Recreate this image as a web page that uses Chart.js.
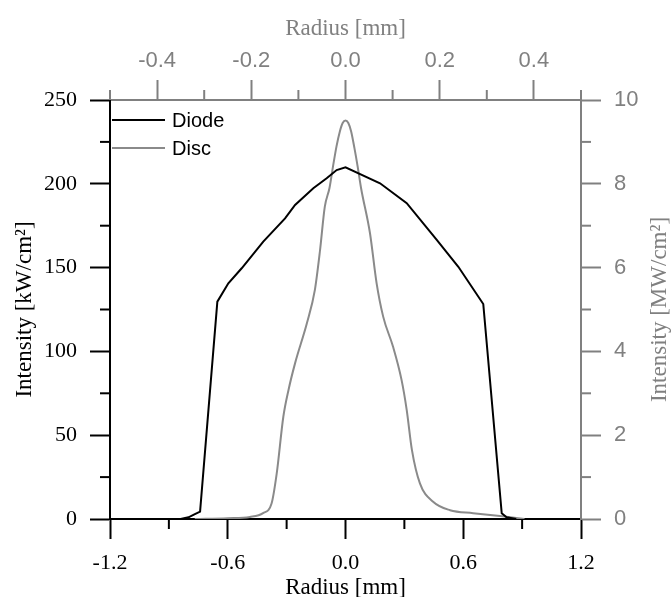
<!DOCTYPE html>
<html>
<head>
<meta charset="utf-8">
<script src="https://cdn.jsdelivr.net/npm/chart.js@4"></script>
<style>
  html, body { margin: 0; padding: 0; background: #fff; }
  #wrap { width: 672px; height: 597px; }
</style>
</head>
<body>
<div id="wrap"><canvas id="c" width="672" height="597"></canvas></div>
<script>
// ---- data ----
const diodeRadius    = [-0.84, -0.80, -0.77, -0.741, -0.653, -0.597, -0.529, -0.419, -0.308, -0.257, -0.164, -0.096, -0.045, 0.0, 0.176, 0.312, 0.465, 0.575, 0.702, 0.796, 0.821, 0.87];
const diodeIntensity = [0, 1.0, 2.8, 4.4, 129.7, 140.6, 149.6, 165.5, 179.4, 187.4, 197.3, 203.3, 208.2, 209.8, 200.3, 188.4, 166.5, 150.5, 128.3, 3.4, 1.0, 0];

const discRadius    = [-0.32, -0.25, -0.203, -0.175, -0.157, -0.146, -0.132, -0.121, -0.107, -0.082, -0.065, -0.054, -0.044, -0.034, -0.026, -0.019, -0.012, -0.006, 0.0, 0.006, 0.012, 0.019, 0.026, 0.033, 0.052, 0.066, 0.080, 0.101, 0.119, 0.130, 0.141, 0.158, 0.186, 0.222, 0.271, 0.328, 0.38];
const discIntensity = [0, 0.02, 0.05, 0.14, 0.37, 1.09, 2.44, 3.08, 3.72, 4.67, 5.47, 6.42, 7.45, 7.9, 8.45, 8.9, 9.25, 9.45, 9.51, 9.45, 9.25, 8.85, 8.4, 7.9, 6.82, 5.63, 4.83, 4.11, 3.32, 2.60, 1.65, 0.85, 0.41, 0.21, 0.14, 0.07, 0];

const seriesLabels = ['Diode', 'Disc'];

const bottomTicks = [-1.2, -0.6, 0.0, 0.6, 1.2];
const bottomMinor = [-0.9, -0.3, 0.3, 0.9];
const topTicks    = [-0.4, -0.2, 0.0, 0.2, 0.4];
const topMinor    = [-0.5, -0.3, -0.1, 0.1, 0.3, 0.5];
const leftTicks   = [0, 50, 100, 150, 200, 250];
const leftMinor   = [25, 75, 125, 175, 225];
const rightTicks  = [0, 2, 4, 6, 8, 10];
const rightMinor  = [1, 3, 5, 7, 9];

const bottomTitle = 'Radius [mm]';
const topTitle    = 'Radius [mm]';
const leftTitle   = 'Intensity [kW/cm\u00B2]';
const rightTitle  = 'Intensity [MW/cm\u00B2]';

// ---- styles ----
const BLACK = '#000000';
const GRAY = '#808080';
const LINE_GRAY = '#8a8a8a';
const SERIF = "'Liberation Serif', 'Times New Roman', serif";
const SANS = "'Liberation Sans', Arial, sans-serif";

const minorTicksPlugin = {
  id: 'minorTicks',
  afterDraw(chart) {
    const ctx = chart.ctx;
    const len = 10;
    ctx.save();
    ctx.lineWidth = 2;
    const draw = (scale, vals, color, pos) => {
      ctx.strokeStyle = color;
      vals.forEach(v => {
        const p = scale.getPixelForValue(v);
        ctx.beginPath();
        if (pos === 'bottom') { ctx.moveTo(p, scale.top); ctx.lineTo(p, scale.top + len); }
        if (pos === 'top') { ctx.moveTo(p, scale.bottom); ctx.lineTo(p, scale.bottom - len); }
        if (pos === 'left') { ctx.moveTo(scale.right, p); ctx.lineTo(scale.right - len, p); }
        if (pos === 'right') { ctx.moveTo(scale.left, p); ctx.lineTo(scale.left + len, p); }
        ctx.stroke();
      });
    };
    draw(chart.scales.x, bottomMinor, BLACK, 'bottom');
    draw(chart.scales.y, leftMinor, BLACK, 'left');
    draw(chart.scales.x2, topMinor, GRAY, 'top');
    draw(chart.scales.y2, rightMinor, GRAY, 'right');
    ctx.restore();
  }
};

const rightTitlePlugin = {
  id: 'rightTitle',
  afterDraw(chart) {
    const ctx = chart.ctx;
    const ca = chart.chartArea;
    ctx.save();
    ctx.translate(660, (ca.top + ca.bottom) / 2);
    ctx.rotate(-Math.PI / 2);
    ctx.font = '23px ' + SERIF;
    ctx.fillStyle = GRAY;
    ctx.textAlign = 'center';
    ctx.textBaseline = 'middle';
    ctx.fillText(rightTitle, 0, 0);
    ctx.restore();
  }
};

const legendPlugin = {
  id: 'insideLegend',
  afterDraw(chart) {
    const ctx = chart.ctx;
    const ca = chart.chartArea;
    ctx.save();
    ctx.font = '20px ' + SANS;
    ctx.textBaseline = 'middle';
    chart.data.datasets.forEach((ds, i) => {
      const y = ca.top + 20 + i * 28;
      ctx.strokeStyle = ds.borderColor;
      ctx.lineWidth = ds.borderWidth;
      ctx.beginPath();
      ctx.moveTo(ca.left + 2, y);
      ctx.lineTo(ca.left + 55, y);
      ctx.stroke();
      ctx.fillStyle = BLACK;
      ctx.fillText(ds.label, ca.left + 62, y + 1);
    });
    ctx.restore();
  }
};

const diodeData = diodeRadius.map((r, i) => ({ x: r, y: diodeIntensity[i] }));
const discData = discRadius.map((r, i) => ({ x: r, y: discIntensity[i] }));

new Chart(document.getElementById('c'), {
  type: 'line',
  data: {
    datasets: [
      {
        label: seriesLabels[0], data: diodeData, xAxisID: 'x', yAxisID: 'y',
        borderColor: BLACK, borderWidth: 2, pointRadius: 0, tension: 0, fill: false
      },
      {
        label: seriesLabels[1], data: discData, xAxisID: 'x2', yAxisID: 'y2',
        borderColor: LINE_GRAY, borderWidth: 2, pointRadius: 0, cubicInterpolationMode: 'monotone', fill: false
      }
    ]
  },
  options: {
    responsive: false,
    animation: false,
    layout: { padding: 0 },
    plugins: { legend: { display: false }, tooltip: { enabled: false } },
    scales: {
      x: {
        type: 'linear', position: 'bottom', min: -1.2, max: 1.2,
        afterBuildTicks: s => { s.ticks = bottomTicks.map(v => ({ value: v })); },
        afterFit: s => { s.height = 78; },
        ticks: { font: { family: SERIF, size: 22 }, color: BLACK, padding: 11, maxRotation: 0, autoSkip: false,
                 callback: v => Number(v).toFixed(1) },
        grid: { drawOnChartArea: false, tickLength: 20, tickColor: BLACK, tickWidth: 2 },
        border: { color: BLACK, width: 2 },
        title: { display: true, text: bottomTitle, color: BLACK, font: { family: SERIF, size: 23, lineHeight: 0.8 }, padding: { top: 0, bottom: 0 } }
      },
      x2: {
        type: 'linear', position: 'top', min: -0.5, max: 0.5,
        afterBuildTicks: s => { s.ticks = topTicks.map(v => ({ value: v })); },
        afterFit: s => { s.height = 100; },
        ticks: { font: { family: SANS, size: 22 }, color: GRAY, padding: 6, maxRotation: 0, autoSkip: false,
                 callback: v => Number(v).toFixed(1) },
        grid: { drawOnChartArea: false, tickLength: 20, tickColor: GRAY, tickWidth: 2 },
        border: { color: GRAY, width: 2 },
        title: { display: true, text: topTitle, color: GRAY, font: { family: SERIF, size: 23, lineHeight: 1 }, padding: { top: 17, bottom: 0 } }
      },
      y: {
        type: 'linear', position: 'left', min: 0, max: 250,
        afterBuildTicks: s => { s.ticks = leftTicks.map(v => ({ value: v })); },
        afterFit: s => { s.width = 110; },
        ticks: { font: { family: SERIF, size: 22 }, color: BLACK, padding: 13, autoSkip: false },
        grid: { drawOnChartArea: false, tickLength: 20, tickColor: BLACK, tickWidth: 2 },
        border: { color: BLACK, width: 2 },
        title: { display: true, text: leftTitle, color: BLACK, font: { family: SERIF, size: 23, lineHeight: 1 }, padding: { top: 13, bottom: 0 } }
      },
      y2: {
        type: 'linear', position: 'right', min: 0, max: 10,
        afterBuildTicks: s => { s.ticks = rightTicks.map(v => ({ value: v })); },
        afterFit: s => { s.width = 91; },
        ticks: { font: { family: SANS, size: 22 }, color: GRAY, padding: 13, autoSkip: false },
        grid: { drawOnChartArea: false, tickLength: 20, tickColor: GRAY, tickWidth: 2 },
        border: { color: GRAY, width: 2 },
        title: { display: false }
      }
    }
  },
  plugins: [minorTicksPlugin, rightTitlePlugin, legendPlugin]
});
</script>
</body>
</html>
